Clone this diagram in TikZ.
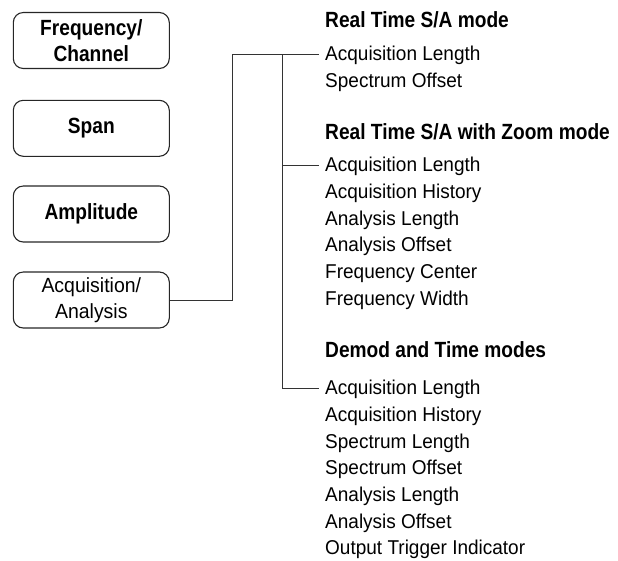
\documentclass[tikz,border=0pt]{standalone}
\usepackage{fontspec}
\setmainfont{Liberation Sans}
\newfontfamily\hbfont[FakeStretch=0.87]{Liberation Sans Bold}
\newfontfamily\rgfont[FakeStretch=0.95]{Liberation Sans}
\begin{document}
\begin{tikzpicture}[x=1pt,y=-1pt,
  btn/.style={draw=black!85,line width=1.1pt,rounded corners=10pt,minimum width=156pt,minimum height=56pt,inner sep=0pt,align=center},
  bbtn/.style={btn,font=\hbfont\fontsize{22}{26}\selectfont},
  rbtn/.style={btn,font=\rgfont\fontsize{20.5}{26}\selectfont},
  head/.style={anchor=base west,inner sep=0pt,font=\hbfont\fontsize{22}{26}\selectfont},
  item/.style={anchor=base west,inner sep=0pt,font=\rgfont\fontsize{20}{26}\selectfont},
  conn/.style={draw=black!80,line width=1pt}]
\useasboundingbox (0,0) rectangle (618,560);
% buttons
\node[bbtn] (b1) at (91.3,40.5) {Frequency/\\Channel};
\node[bbtn] (b2) at (91.3,128.3) {Span};
\node[bbtn] (b3) at (91.3,214) {Amplitude};
\node[rbtn] (b4) at (91.3,300) {Acquisition/\\Analysis};
% section 1
\node[head] (h1) at (325,27) {Real Time S/A mode};
\node[item] (a1) at (325,60.7) {Acquisition Length};
\node[item] (a2) at (325,87.4) {Spectrum Offset};
% section 2
\node[head] (h2) at (325,139) {Real Time S/A with Zoom mode};
\node[item] (z1) at (325,171.7) {Acquisition Length};
\node[item] (z2) at (325,198.4) {Acquisition History};
\node[item] (z3) at (325,225.1) {Analysis Length};
\node[item] (z4) at (325,251.8) {Analysis Offset};
\node[item] (z5) at (325,278.5) {Frequency Center};
\node[item] (z6) at (325,305.2) {Frequency Width};
% section 3
\node[head] (h3) at (325,357.3) {Demod and Time modes};
\node[item] (d1) at (325,394.7) {Acquisition Length};
\node[item] (d2) at (325,421.4) {Acquisition History};
\node[item] (d3) at (325,448.1) {Spectrum Length};
\node[item] (d4) at (325,474.8) {Spectrum Offset};
\node[item] (d5) at (325,501.5) {Analysis Length};
\node[item] (d6) at (325,528.2) {Analysis Offset};
\node[item] (d7) at (325,554.9) {Output Trigger Indicator};
% connectors
\coordinate (e1) at ([shift={(-6pt,6.7pt)}]a1.base west);
\coordinate (e2) at ([shift={(-6pt,6.7pt)}]z1.base west);
\coordinate (e3) at ([shift={(-6pt,6.7pt)}]d1.base west);
\coordinate (v1) at (232.7,0);
\coordinate (v2) at (282.3,0);
\draw[conn] (b4.east) -| (v1 |- e1) -- (e1);
\draw[conn] (v2 |- e1) |- (e3);
\draw[conn] (v2 |- e2) -- (e2);
\end{tikzpicture}
\end{document}
